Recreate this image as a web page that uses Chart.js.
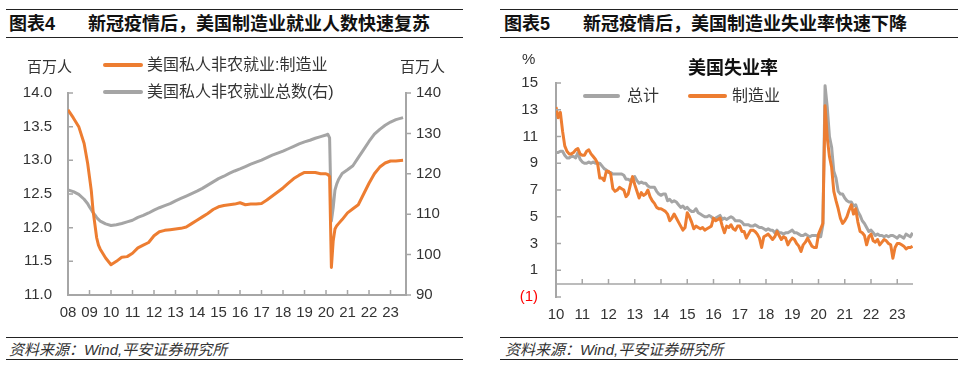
<!DOCTYPE html>
<html>
<head>
<meta charset="utf-8">
<script src="https://cdn.jsdelivr.net/npm/chart.js@4"></script>
<style>
body{margin:0;width:960px;height:369px;background:#fff;position:relative;overflow:hidden;
  font-family:"Liberation Sans","Noto Sans CJK SC",sans-serif;color:#333}
.t{position:absolute;white-space:nowrap;transform:translateY(-50%);line-height:1}
.head{font-size:18px;font-weight:bold;color:#111}
.rule{position:absolute;height:0;border-top:1.5px solid #222}
.foot{font-size:15px;font-style:italic;color:#333}
.leg{font-size:16px;color:#333}
.unit{font-size:15px;color:#333}
.sw{position:absolute;height:4px;border-radius:2px}
.box{position:absolute}
</style>
</head>
<body>

<!-- chart 4 header / footer -->
<div class="rule" style="left:6px;width:457px;top:9px"></div>
<div class="t head" style="left:9px;top:24px">图表4</div>
<div class="t head" style="left:88px;top:24px">新冠疫情后，美国制造业就业人数快速复苏</div>
<div class="rule" style="left:6px;width:457px;top:37px"></div>
<div class="rule" style="left:6px;width:457px;top:337px"></div>
<div class="t foot" style="left:9px;top:349px">资料来源：Wind,平安证券研究所</div>
<div class="rule" style="left:6px;width:457px;top:359px"></div>

<!-- chart 5 header / footer -->
<div class="rule" style="left:500px;width:458px;top:9px"></div>
<div class="t head" style="left:504px;top:24px">图表5</div>
<div class="t head" style="left:583px;top:24px">新冠疫情后，美国制造业失业率快速下降</div>
<div class="rule" style="left:500px;width:458px;top:37px"></div>
<div class="rule" style="left:500px;width:458px;top:337px"></div>
<div class="t foot" style="left:505px;top:349px">资料来源：Wind,平安证券研究所</div>
<div class="rule" style="left:500px;width:458px;top:359px"></div>

<div class="box" style="left:0;top:40px"><canvas id="c1" width="470" height="295"></canvas></div>
<div class="box" style="left:480px;top:40px"><canvas id="c2" width="480" height="295"></canvas></div>

<!-- chart 4 units + legend -->
<div class="t unit" style="left:27px;top:66px">百万人</div>
<div class="t unit" style="left:400px;top:66px">百万人</div>
<div class="sw" style="left:103px;width:40px;top:63px;background:#ED7D31"></div>
<div class="t leg" style="left:147px;top:65px">美国私人非农就业:制造业</div>
<div class="sw" style="left:103px;width:40px;top:90px;background:#A5A5A5"></div>
<div class="t leg" style="left:147px;top:92px">美国私人非农就业总数(右)</div>

<!-- chart 5 title, unit, legend -->
<div class="t unit" style="left:522px;top:58px">%</div>
<div class="t" style="left:688px;top:68px;font-size:18px;font-weight:bold;color:#111">美国失业率</div>
<div class="sw" style="left:583px;width:37px;top:94px;background:#A5A5A5"></div>
<div class="t leg" style="left:627px;top:96px">总计</div>
<div class="sw" style="left:688px;width:39px;top:94px;background:#ED7D31"></div>
<div class="t leg" style="left:732px;top:96px">制造业</div>

<script>
// ---------------- data: chart 4 (millions) ----------------
var dates1 = ['2008-01','2008-04','2008-07','2008-10','2008-12','2009-01','2009-02','2009-03',
  '2009-04','2009-05','2009-06','2009-07','2009-10',
  '2010-01','2010-04','2010-07','2010-10','2011-01','2011-04','2011-07','2011-10',
  '2012-01','2012-04','2012-07','2012-10','2013-01','2013-04','2013-07','2013-10',
  '2014-01','2014-04','2014-07','2014-10','2015-01','2015-04','2015-07','2015-10',
  '2016-01','2016-04','2016-07','2016-10','2017-01','2017-04','2017-07','2017-10',
  '2018-01','2018-04','2018-07','2018-10','2019-01','2019-04','2019-07','2019-10',
  '2020-01','2020-02','2020-03','2020-04','2020-05','2020-06','2020-07','2020-08','2020-10',
  '2021-01','2021-04','2021-07','2021-10','2022-01','2022-04','2022-07','2022-10',
  '2023-01','2023-04','2023-08'];
var mfg1 = [13.75,13.63,13.50,13.25,12.95,12.75,12.55,12.25,
  12.05,11.85,11.74,11.68,11.55,
  11.45,11.50,11.56,11.57, 11.62,11.70,11.74,11.78,
  11.88,11.94,11.96,11.97, 11.98,11.99,12.01,12.06,
  12.11,12.16,12.21,12.27, 12.31,12.33,12.34,12.35,
  12.37,12.34,12.35,12.35, 12.36,12.41,12.47,12.53,
  12.59,12.66,12.73,12.78, 12.82,12.82,12.82,12.80,
  12.80,12.79,12.76,11.41,11.80,11.98,12.03,12.06,12.12,
  12.22,12.28,12.34,12.50, 12.66,12.80,12.90,12.96,
  12.99,12.99,13.00];
var total1 = [116.0,115.6,114.9,113.7,112.6,111.8,111.1,110.4,
  109.8,109.2,108.7,108.3,107.6,
  107.2,107.4,107.7,108.1, 108.5,109.2,109.7,110.3,
  111.0,111.6,112.1,112.6, 113.3,113.9,114.5,115.1,
  115.7,116.4,117.2,118.0, 118.8,119.4,120.1,120.7,
  121.2,121.8,122.4,122.9, 123.4,124.0,124.6,125.1,
  125.6,126.2,126.8,127.4, 127.9,128.3,128.8,129.2,
  129.6,129.8,128.9,108.3,111.6,116.0,117.5,118.6,120.1,
  121.0,122.0,124.0,126.0, 128.0,129.8,131.0,132.0,
  132.8,133.4,133.9];
var xLabels1 = ['08','09','10','11','12','13','14','15','16','17','18','19','20','21','22','23'];

// ---------------- data: chart 5 (%) monthly from 2010-01 ----------------
var start2 = 2010;
var total2 = [
  9.8,9.8,9.9,9.9,9.6,9.4,9.4,9.5,9.5,9.4,9.8,9.3,
  9.1,9.0,9.0,9.1,9.0,9.1,9.0,9.0,9.0,8.8,8.6,8.5,
  8.3,8.3,8.2,8.2,8.2,8.2,8.2,8.1,7.8,7.8,7.7,7.9,
  8.0,7.7,7.5,7.6,7.5,7.5,7.3,7.2,7.2,7.2,6.9,6.7,
  6.6,6.7,6.7,6.2,6.3,6.1,6.2,6.1,5.9,5.7,5.8,5.6,
  5.7,5.5,5.4,5.4,5.6,5.3,5.2,5.1,5.0,5.0,5.1,5.0,
  4.8,4.9,5.0,5.1,4.8,4.9,4.8,4.9,5.0,4.9,4.7,4.7,
  4.7,4.6,4.4,4.4,4.4,4.3,4.3,4.4,4.3,4.2,4.2,4.1,
  4.0,4.1,4.0,4.0,3.8,4.0,3.8,3.8,3.7,3.8,3.8,3.9,
  4.0,3.8,3.8,3.7,3.6,3.6,3.7,3.6,3.5,3.6,3.6,3.6,
  3.5,3.5,4.4,14.8,13.2,11.0,10.2,8.4,7.9,6.9,6.7,6.7,
  6.4,6.2,6.1,6.1,5.8,5.9,5.4,5.1,4.7,4.5,4.2,3.9,
  4.0,3.8,3.6,3.7,3.6,3.6,3.5,3.6,3.5,3.6,3.6,3.5,
  3.4,3.6,3.5,3.4,3.7,3.6,3.5,3.8];
var mfg2 = [
  13.2,12.4,12.8,11.4,10.3,9.9,9.7,9.7,9.8,10.0,10.1,9.7,
  9.6,9.6,9.9,10.0,9.7,9.5,9.3,9.0,7.9,7.9,7.7,8.4,
  8.4,8.2,7.1,6.9,7.0,7.2,7.1,7.0,6.5,6.7,7.4,8.0,
  7.4,6.9,6.4,6.8,6.6,6.7,7.0,6.5,6.2,6.0,5.7,5.6,
  5.6,5.5,5.4,5.2,4.7,4.9,5.2,4.9,4.6,4.3,4.0,4.2,
  5.3,5.0,4.6,4.1,4.3,4.2,4.1,4.2,4.0,4.1,4.2,4.3,
  4.9,4.7,4.8,4.9,4.3,3.8,4.3,4.2,4.4,4.1,4.0,4.3,
  4.3,3.9,3.9,3.4,3.7,4.0,4.0,3.9,3.7,3.4,2.7,3.5,
  3.6,3.7,3.5,3.3,3.5,3.9,3.6,3.3,3.5,3.4,2.9,3.2,
  3.4,3.3,3.0,2.8,2.4,2.9,3.1,3.4,3.1,2.8,2.7,2.7,
  3.7,4.1,4.5,13.3,10.9,9.5,8.7,6.9,6.2,5.6,4.9,4.5,
  4.7,5.0,5.5,5.9,5.2,5.6,4.6,3.9,3.8,3.6,2.9,3.5,
  3.7,3.2,3.1,3.3,2.9,3.1,3.3,3.2,3.0,2.9,1.9,2.7,
  3.0,3.0,2.9,2.8,2.6,2.7,2.7,2.8];
var xLabels2 = ['10','11','12','13','14','15','16','17','18','19','20','21','22','23'];

// ---------------- style ----------------
var ORANGE = '#ED7D31', GRAY = '#A5A5A5', AXIS = '#A6A6A6', TXT = '#333';
var FONT = {family: '"Liberation Sans","Noto Sans CJK SC",sans-serif', size: 15};

function toYear(s){
  var p = s.split('-');
  return Number(p[0]) + (Number(p[1]) - 1) / 12;
}
function pts(xs, ys){
  return ys.map(function(v, i){ return {x: xs[i], y: v}; });
}

var x1 = dates1.map(toYear);
var x2 = mfg2.map(function(v, i){ return start2 + i / 12; });

// short tick marks pointing into the plot
var innerTicks = {
  id: 'innerTicks',
  afterDraw: function(chart, args, opts){
    var ctx = chart.ctx, a = chart.chartArea, sx = chart.scales.x, sy = chart.scales.y;
    ctx.save();
    ctx.strokeStyle = AXIS;
    ctx.lineWidth = 1.5;
    ctx.beginPath();
    var base = a.bottom;
    if (opts.zeroLine) {
      base = Math.round(sy.getPixelForValue(0));
      ctx.moveTo(a.left, base); ctx.lineTo(a.right, base);
    }
    sx.ticks.forEach(function(t){
      var px = sx.getPixelForValue(t.value);
      if (px > a.left + 2) { ctx.moveTo(px, base); ctx.lineTo(px, base - 5); }
    });
    sy.ticks.forEach(function(t){
      var py = sy.getPixelForValue(t.value);
      ctx.moveTo(a.left, py); ctx.lineTo(a.left + 5, py);
    });
    var sr = chart.scales.yR;
    if (sr) {
      sr.ticks.forEach(function(t){
        var py = sr.getPixelForValue(t.value);
        ctx.moveTo(a.right, py); ctx.lineTo(a.right + 5, py);
      });
    }
    ctx.stroke();
    ctx.restore();
  }
};

function lineSet(data, color, axis, order){
  return {data: data, borderColor: color, borderWidth: 3, pointRadius: 0,
          tension: 0, yAxisID: axis, order: order, borderJoinStyle: 'round'};
}

// ---------------- chart 4 ----------------
new Chart(document.getElementById('c1').getContext('2d'), {
  type: 'line',
  data: {datasets: [
    lineSet(pts(x1, mfg1), ORANGE, 'y', 0),
    lineSet(pts(x1, total1), GRAY, 'yR', 1)
  ]},
  options: {
    responsive: false, animation: false,
    layout: {padding: {left: 0, right: 0, top: 53, bottom: 10}},
    plugins: {legend: {display: false}, tooltip: {enabled: false}, innerTicks: {}},
    scales: {
      x: {type: 'linear', min: 2008, max: 2023.72,
          afterBuildTicks: function(s){ s.ticks = xLabels1.map(function(l){ return {value: 2000 + Number(l)}; }); },
          afterFit: function(s){ s.height = 30; },
          grid: {display: false, drawTicks: false},
          border: {display: true, color: AXIS, width: 2},
          ticks: {autoSkip: false, maxRotation: 0, padding: 9, color: TXT, font: FONT,
                  callback: function(v, i){ return xLabels1[i]; }}},
      y: {position: 'left', min: 11, max: 14,
          afterFit: function(s){ s.width = 68; },
          grid: {display: false, drawTicks: false},
          border: {display: true, color: AXIS, width: 2},
          ticks: {stepSize: 0.5, padding: 16, color: TXT, font: FONT,
                  callback: function(v){ return v.toFixed(1); }}},
      yR: {position: 'right', min: 90, max: 140,
          afterFit: function(s){ s.width = 64; },
          grid: {display: false, drawTicks: false},
          border: {display: true, color: AXIS, width: 2},
          ticks: {stepSize: 10, padding: 10, color: TXT, font: FONT}}
    }
  },
  plugins: [innerTicks]
});

// ---------------- chart 5 ----------------
new Chart(document.getElementById('c2').getContext('2d'), {
  type: 'line',
  data: {datasets: [
    lineSet(pts(x2, mfg2), ORANGE, 'y', 0),
    lineSet(pts(x2, total2), GRAY, 'y', 1)
  ]},
  options: {
    responsive: false, animation: false,
    layout: {padding: {left: 0, right: 47, top: 43, bottom: 8}},
    plugins: {legend: {display: false}, tooltip: {enabled: false}, innerTicks: {zeroLine: true}},
    scales: {
      x: {type: 'linear', min: 2010, max: 2023.6,
          afterBuildTicks: function(s){ s.ticks = xLabels2.map(function(l){ return {value: 2000 + Number(l)}; }); },
          afterFit: function(s){ s.height = 30; },
          grid: {display: false, drawTicks: false},
          border: {display: false},
          ticks: {autoSkip: false, maxRotation: 0, padding: 9, color: TXT, font: FONT,
                  callback: function(v, i){ return xLabels2[i]; }}},
      y: {position: 'left', min: -1, max: 15,
          afterFit: function(s){ s.width = 76; },
          grid: {display: false, drawTicks: false},
          border: {display: true, color: AXIS, width: 2},
          ticks: {stepSize: 2, padding: 18, font: FONT,
                  color: function(c){ return c.tick && c.tick.value < 0 ? '#FF0000' : TXT; },
                  callback: function(v){ return v < 0 ? '(' + (-v) + ')' : String(v); }}}
    }
  },
  plugins: [innerTicks]
});
</script>
</body>
</html>
